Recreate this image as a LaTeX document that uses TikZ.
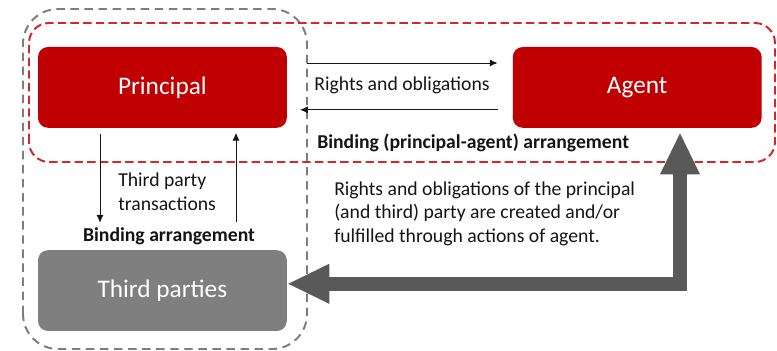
\documentclass[tikz,border=0pt]{standalone}
\usepackage{fontspec}
\setmainfont{Carlito}
\usetikzlibrary{arrows.meta}

\definecolor{boxred}{RGB}{192,0,0}
\definecolor{linered}{RGB}{214,38,44}
\definecolor{boxgray}{RGB}{127,127,127}
\definecolor{linegray}{RGB}{125,125,125}
\definecolor{arrowgray}{RGB}{89,89,89}
\definecolor{textgray}{RGB}{20,20,20}

\tikzset{
  partybox/.style={rounded corners=0.25cm, minimum width=6.22cm,
    minimum height=2.02cm, inner sep=0pt, text=white,
    font=\fontsize{18}{20}\selectfont},
  smallarrow/.style={-{Latex[length=5.5pt,width=5pt]}, line width=0.6pt, textgray},
  smalltext/.style={font=\fontsize{14}{17}\selectfont, text=textgray, inner sep=0pt},
  bigarrow/.style={{Triangle[length=30pt,width=26pt]}-{Triangle[length=30pt,width=26pt]},
    line width=9.6pt, arrowgray, line join=miter}
}

\begin{document}
\begin{tikzpicture}

    \useasboundingbox (0,0) rectangle (19.425,8.775);

    % Dashed groupings
    \draw[linegray, line width=1.4pt, dash pattern=on 6pt off 4pt, rounded corners=0.875cm]
        (0.575,0.05) rectangle (7.675,8.55);
    \draw[linered, line width=1.4pt, dash pattern=on 6pt off 3pt, rounded corners=0.5cm]
        (0.725,4.725) rectangle (19.375,8.2);

    % Parties
    \node[partybox, fill=boxred]  (principal) at ( 4.06,6.59) {Principal};
    \node[partybox, fill=boxred]  (agent)     at (15.93,6.59) {Agent};
    \node[partybox, fill=boxgray] (third)     at ( 4.06,1.51) {Third parties};

    % Principal <-> agent
    \draw[smallarrow] ([xshift=0.5cm,yshift=0.61cm]principal.east)
        -- ([xshift=-0.375cm,yshift=0.61cm]agent.west);
    \draw[smallarrow] ([xshift=-0.375cm,yshift=-0.56cm]agent.west)
        -- ([xshift=0.325cm,yshift=-0.56cm]principal.east);
    \node[smalltext] at (10.05,6.63) {Rights and obligations};
    \node[smalltext, anchor=west] at (7.925,5.2) {\bfseries Binding (principal-agent) arrangement};

    % Principal <-> third parties
    \draw[smallarrow] ([xshift=-1.56cm,yshift=-0.15cm]principal.south)
        -- ([xshift=-1.56cm,yshift=0.68cm]third.north);
    \draw[smallarrow] ([xshift=1.84cm,yshift=0.7cm]third.north)
        -- ([xshift=1.84cm,yshift=-0.12cm]principal.south);
    \node[smalltext, anchor=west, align=left] at (2.95,3.98) {Third party\\transactions};
    \node[smalltext] at (4.225,2.875) {\bfseries Binding arrangement};

    % Agent acting towards third parties
    \coordinate (bend) at (17.0,1.68);
    \draw[bigarrow] ([yshift=-0.1cm]agent.south -| bend) -- (bend) -- (third.east |- bend);
    \node[smalltext, anchor=west, align=left] at (8.35,3.43)
        {Rights and obligations of the principal\\(and third) party are created and/or\\fulfilled through actions of agent.};

\end{tikzpicture}
\end{document}
